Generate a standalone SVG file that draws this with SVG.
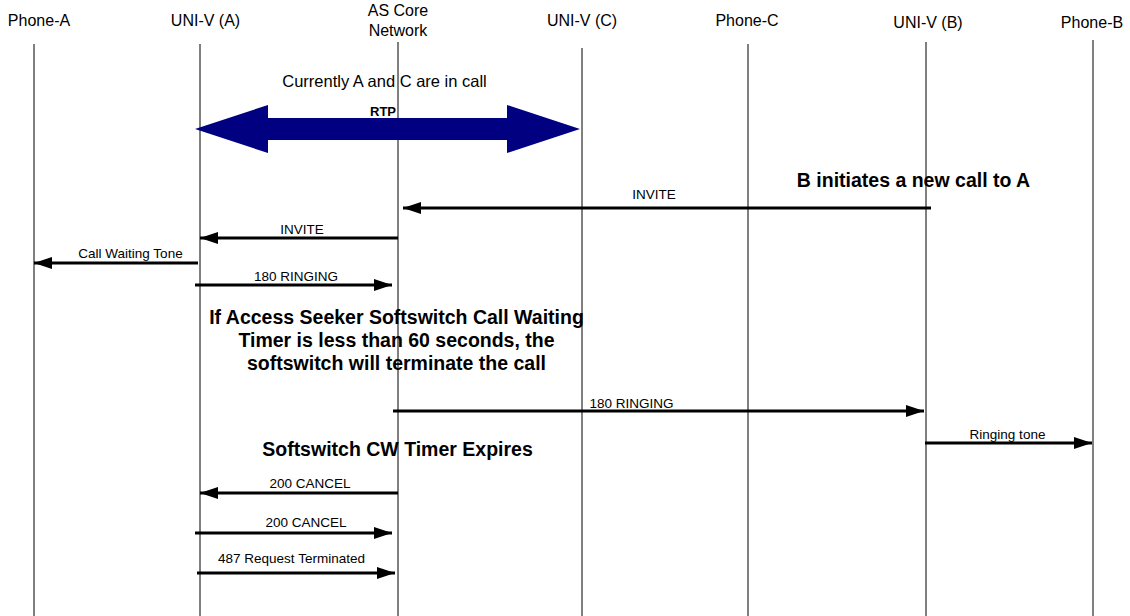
<svg xmlns="http://www.w3.org/2000/svg" width="1130" height="616" viewBox="0 0 1130 616">
<defs>
<marker id="ah" viewBox="0 0 18 12" refX="18" refY="6" markerWidth="18" markerHeight="12" markerUnits="userSpaceOnUse" orient="auto">
<path d="M0,0 L18,6 L0,12 Z" fill="#000"/>
</marker>
</defs>
<style>
.life{stroke:#000;stroke-width:1;fill:none}
.hdr{font-family:"Liberation Sans",Arial,sans-serif;font-size:16px;fill:#000;text-anchor:middle}
.lbl{font-family:"Liberation Sans",Arial,sans-serif;font-size:13.5px;fill:#000;text-anchor:middle}
.note{font-family:"Liberation Sans",Arial,sans-serif;font-size:19.5px;font-weight:bold;fill:#000;text-anchor:middle}
.msg{stroke:#000;stroke-width:3;fill:none;marker-end:url(#ah)}
</style>
<rect width="1130" height="616" fill="#fff"/>
<g id="phone-a"><text class="hdr" x="39" y="26">Phone-A</text><line class="life" x1="34" y1="44" x2="34" y2="616"/></g>
<g id="uni-v-a"><text class="hdr" x="205.5" y="26">UNI-V (A)</text><line class="life" x1="200" y1="44" x2="200" y2="616"/></g>
<g id="as-core"><text class="hdr" x="398" y="16">AS Core</text><text class="hdr" x="398" y="36">Network</text><line class="life" x1="398" y1="42" x2="398" y2="616"/></g>
<g id="uni-v-c"><text class="hdr" x="582" y="26">UNI-V (C)</text><line class="life" x1="582" y1="48" x2="582" y2="616"/></g>
<g id="phone-c"><text class="hdr" x="747" y="26">Phone-C</text><line class="life" x1="748" y1="44" x2="748" y2="616"/></g>
<g id="uni-v-b"><text class="hdr" x="928" y="28">UNI-V (B)</text><line class="life" x1="926" y1="42" x2="926" y2="616"/></g>
<g id="phone-b"><text class="hdr" x="1092" y="28">Phone-B</text><line class="life" x1="1093" y1="40" x2="1093" y2="616"/></g>
<g id="rtp">
<text class="lbl" x="384.5" y="87" style="font-size:16.5px">Currently A and C are in call</text>
<path d="M195,129 L268,105 L268,118 L507,118 L507,105 L580,129 L507,153 L507,140 L268,140 L268,153 Z" fill="#000080"/>
<text class="lbl" x="383" y="116" style="font-size:13px;font-weight:bold">RTP</text>
</g>
<g id="notes">
<text class="note" x="913.5" y="187">B initiates a new call to A</text>
<text class="note" x="396.5" y="324">If Access Seeker Softswitch Call Waiting</text>
<text class="note" x="396.5" y="347">Timer is less than 60 seconds, the</text>
<text class="note" x="396.5" y="370">softswitch will terminate the call</text>
<text class="note" x="397.5" y="456">Softswitch CW Timer Expires</text>
</g>
<g id="connectors">
<line class="msg" x1="931" y1="208" x2="403" y2="208"/>
<text class="lbl" x="654" y="199">INVITE</text>
<line class="msg" x1="398" y1="238" x2="200" y2="238"/>
<text class="lbl" x="302" y="234">INVITE</text>
<line class="msg" x1="198" y1="263" x2="34" y2="263"/>
<text class="lbl" x="130.5" y="258">Call Waiting Tone</text>
<line class="msg" x1="195" y1="285" x2="392" y2="285"/>
<text class="lbl" x="296" y="281">180 RINGING</text>
<line class="msg" x1="393" y1="411" x2="924" y2="411"/>
<text class="lbl" x="631.5" y="408">180 RINGING</text>
<line class="msg" x1="925" y1="443" x2="1092" y2="443"/>
<text class="lbl" x="1007.5" y="439">Ringing tone</text>
<line class="msg" x1="398" y1="493" x2="200" y2="493"/>
<text class="lbl" x="310" y="488">200 CANCEL</text>
<line class="msg" x1="195" y1="533" x2="392" y2="533"/>
<text class="lbl" x="306" y="527">200 CANCEL</text>
<line class="msg" x1="197" y1="573" x2="395" y2="573"/>
<text class="lbl" x="291.5" y="563">487 Request Terminated</text>
</g>
</svg>
